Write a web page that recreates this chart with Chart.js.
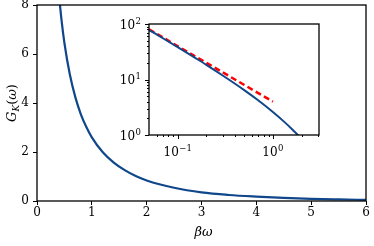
<!DOCTYPE html>
<html>
<head>
<meta charset="utf-8">
<script src="https://cdn.jsdelivr.net/npm/chart.js@4.4.1/dist/chart.umd.min.js"></script>
<style>
  html, body { margin:0; padding:0; background:#fff; }
  #wrap { position:relative; width:374px; height:246px; }
  #main { position:absolute; left:0; top:0; }
  #inset { position:absolute; left:110px; top:15px; }
</style>
</head>
<body>
<div id="wrap">
  <canvas id="main" width="374" height="246"></canvas>
  <canvas id="inset" width="220" height="150"></canvas>
</div>
<script>
// main panel: G_K(omega) against beta*omega
const omega = [0.40, 0.45, 0.5, 0.6, 0.7, 0.8, 0.9, 1.0, 1.2, 1.4, 1.6, 1.8, 2.0, 2.5, 3.0, 3.5, 4.0, 4.5, 5.0, 5.5, 6.0];
const gk    = [8.42, 7.33, 6.45, 5.15, 4.23, 3.54, 3.02, 2.60, 1.99, 1.57, 1.26, 1.02, 0.84, 0.54, 0.35, 0.245, 0.18, 0.13, 0.09, 0.065, 0.045];
const xTicks = [0, 1, 2, 3, 4, 5, 6];
const yTicks = [0, 2, 4, 6, 8];

// inset: same curve on log-log axes, plus the 1/x asymptote (dashed)
const omegaLog = [0.05, 0.07, 0.1, 0.15, 0.2, 0.3, 0.5, 0.7, 1.0, 1.3, 1.6, 1.85, 2.1];
const gkLog    = [78, 55.4, 38.3, 25, 18.4, 11.7, 6.45, 4.23, 2.60, 1.76, 1.26, 0.98, 0.78];
const asymOmega = [0.05, 1.0];
const asymG     = [80, 4];
const insetXMajor = [0.1, 1];
const insetXExp   = ['\u22121', '0'];
const insetXMinor = [0.06, 0.07, 0.08, 0.09, 0.2, 0.3, 0.4, 0.5, 0.6, 0.7, 0.8, 0.9, 2, 3];
const insetYMajor = [1, 10, 100];
const insetYExp   = ['0', '1', '2'];
const insetYMinor = [2, 3, 4, 5, 6, 7, 8, 9, 20, 30, 40, 50, 60, 70, 80, 90];

const BLUE = '#10468a';
const SERIF = "'DejaVu Serif', serif";
const pts = (xs, ys) => xs.map((x, i) => ({x: x, y: ys[i]}));

// box round the plot area, white fill behind it
function framePlugin(extra){
  return {
    id: 'frame',
    beforeDraw(chart){
      const a = chart.chartArea, ctx = chart.ctx;
      ctx.save();
      ctx.fillStyle = '#fff';
      ctx.fillRect(a.left, a.top, a.right - a.left, a.bottom - a.top);
      ctx.restore();
    },
    afterDraw(chart){
      const a = chart.chartArea, ctx = chart.ctx;
      ctx.save();
      ctx.strokeStyle = '#000';
      ctx.lineWidth = 1.3;
      ctx.strokeRect(a.left, a.top, a.right - a.left, a.bottom - a.top);
      if (extra) extra(chart, ctx, a);
      ctx.restore();
    }
  };
}

// "10" with a raised exponent
function powerLabel(ctx, exp, x, y, align){
  ctx.font = '12px ' + SERIF;
  const wb = ctx.measureText('10').width;
  ctx.font = '8.5px ' + SERIF;
  const we = ctx.measureText(exp).width;
  const w = wb + we + 0.5;
  let x0 = align === 'right' ? x - w : x - w / 2;
  ctx.textAlign = 'left';
  ctx.textBaseline = 'alphabetic';
  ctx.font = '12px ' + SERIF;
  ctx.fillText('10', x0, y);
  ctx.font = '8.5px ' + SERIF;
  ctx.fillText(exp, x0 + wb + 0.5, y - 5);
}

// inset ticks (major + minor) and decade labels, placed by the log scales
function insetDecor(chart, ctx, a){
  const xs = chart.scales.x, ys = chart.scales.y;
  ctx.lineWidth = 1;
  ctx.beginPath();
  insetXMajor.concat(insetXMinor).forEach(v => {
    const p = Math.round(xs.getPixelForValue(v)) + 0.5;
    const len = insetXMajor.includes(v) ? 4 : 2;
    ctx.moveTo(p, a.bottom); ctx.lineTo(p, a.bottom + len);
  });
  insetYMajor.concat(insetYMinor).forEach(v => {
    const p = Math.round(ys.getPixelForValue(v)) + 0.5;
    const len = insetYMajor.includes(v) ? 4 : 2;
    ctx.moveTo(a.left, p); ctx.lineTo(a.left - len, p);
  });
  ctx.stroke();
  ctx.fillStyle = '#000';
  insetXMajor.forEach((v, i) => powerLabel(ctx, insetXExp[i], xs.getPixelForValue(v), a.bottom + 21, 'center'));
  insetYMajor.forEach((v, i) => powerLabel(ctx, insetYExp[i], a.left - 8, ys.getPixelForValue(v) + 4.5, 'right'));
}

// axis titles (y title has a subscript, so it is drawn piece by piece)
const titles = {
  id: 'titles',
  afterDraw(chart){
    const a = chart.chartArea, ctx = chart.ctx;
    ctx.save();
    ctx.fillStyle = '#000';
    ctx.textBaseline = 'alphabetic';
    ctx.font = 'italic 13px ' + SERIF;
    ctx.textAlign = 'center';
    ctx.fillText('\u03B2\u03C9', (a.left + a.right) / 2 + 2, a.bottom + 35);

    const parts = [
      {t: 'G', f: 'italic 13px ' + SERIF, dy: 0},
      {t: 'K', f: 'italic 9px ' + SERIF, dy: 3},
      {t: '(', f: '13px ' + SERIF, dy: 0},
      {t: '\u03C9', f: 'italic 13px ' + SERIF, dy: 0},
      {t: ')', f: '13px ' + SERIF, dy: 0}
    ];
    let w = 0;
    parts.forEach(p => { ctx.font = p.f; p.w = ctx.measureText(p.t).width; w += p.w; });
    ctx.translate(16, (a.top + a.bottom) / 2);
    ctx.rotate(-Math.PI / 2);
    ctx.textAlign = 'left';
    let x = -w / 2;
    parts.forEach(p => { ctx.font = p.f; ctx.fillText(p.t, x, p.dy); x += p.w; });
    ctx.restore();
  }
};

new Chart(document.getElementById('main'), {
  type: 'line',
  data: {
    datasets: [{
      data: pts(omega, gk),
      borderColor: BLUE, borderWidth: 2.2,
      pointRadius: 0, cubicInterpolationMode: 'monotone', fill: false
    }]
  },
  options: {
    responsive: false, animation: false, devicePixelRatio: 1,
    layout: {padding: {top: 5, right: 8, left: 0, bottom: 0}},
    plugins: {legend: {display: false}, tooltip: {enabled: false}},
    scales: {
      x: {
        type: 'linear', min: 0, max: 6,
        afterBuildTicks: s => { s.ticks = xTicks.map(v => ({value: v})); },
        afterFit: s => { s.height = 45; s.paddingLeft = 0; s.paddingRight = 0; },
        grid: {drawOnChartArea: false, drawTicks: true, tickLength: 4, color: '#000', lineWidth: 1},
        border: {display: false},
        ticks: {color: '#000', font: {family: SERIF, size: 12}, padding: 1, maxRotation: 0}
      },
      y: {
        type: 'linear', min: 0, max: 8,
        afterBuildTicks: s => { s.ticks = yTicks.map(v => ({value: v})); },
        afterFit: s => { s.width = 37; s.paddingTop = 0; s.paddingBottom = 0; },
        grid: {drawOnChartArea: false, drawTicks: true, tickLength: 4, color: '#000', lineWidth: 1},
        border: {display: false},
        ticks: {color: '#000', font: {family: SERIF, size: 12}, padding: 4}
      }
    }
  },
  plugins: [framePlugin(null), titles]
});

new Chart(document.getElementById('inset'), {
  type: 'line',
  data: {
    datasets: [{
      data: pts(omegaLog, gkLog),
      borderColor: BLUE, borderWidth: 2,
      pointRadius: 0, cubicInterpolationMode: 'monotone', fill: false
    }, {
      data: pts(asymOmega, asymG),
      borderColor: '#ff0000', borderWidth: 2.5, borderDash: [6, 3.5],
      pointRadius: 0, fill: false
    }]
  },
  options: {
    responsive: false, animation: false, devicePixelRatio: 1,
    layout: {padding: {top: 9, right: 11, left: 0, bottom: 0}},
    plugins: {legend: {display: false}, tooltip: {enabled: false}},
    scales: {
      x: {
        type: 'logarithmic', min: 0.05, max: 3.05,
        afterFit: s => { s.height = 30; s.paddingLeft = 0; s.paddingRight = 0; },
        grid: {display: false, drawTicks: false},
        border: {display: false},
        ticks: {display: false}
      },
      y: {
        type: 'logarithmic', min: 1, max: 100,
        afterFit: s => { s.width = 39; s.paddingTop = 0; s.paddingBottom = 0; },
        grid: {display: false, drawTicks: false},
        border: {display: false},
        ticks: {display: false}
      }
    }
  },
  plugins: [framePlugin(insetDecor)]
});
</script>
</body>
</html>
